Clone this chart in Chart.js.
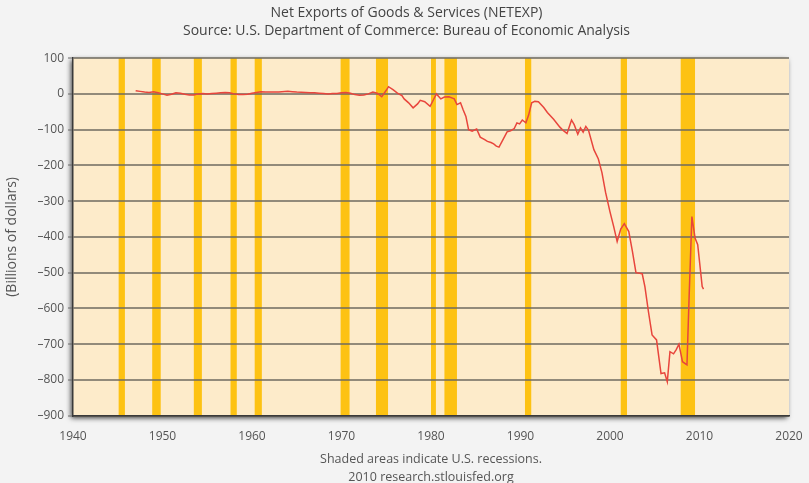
<!DOCTYPE html>
<html>
<head>
<meta charset="utf-8">
<title>Net Exports of Goods & Services</title>
<script src="https://cdn.jsdelivr.net/npm/chart.js@4.4.0/dist/chart.umd.min.js"></script>
<style>
  html, body { margin: 0; padding: 0; background: #f3f3f3; }
  #wrap { width: 809px; height: 483px; position: relative; }
</style>
</head>
<body>
<div id="wrap"><canvas id="netexpChart"></canvas></div>
<script>
// NETEXP, billions of dollars (sampled along the series)
const years = [
  1947.0, 1947.5, 1948.0, 1948.5, 1949.0, 1949.5, 1950.0, 1950.5, 1951.0, 1951.5,
  1952.0, 1952.5, 1953.0, 1953.5, 1954.0, 1954.5, 1955.0, 1955.5, 1956.0, 1956.5,
  1957.0, 1957.5, 1958.0, 1958.5, 1959.0, 1959.5, 1960.0, 1960.5, 1961.0, 1961.5,
  1962.0, 1963.0, 1964.0, 1964.5, 1965.0, 1966.0, 1966.5, 1967.0, 1967.5, 1968.0,
  1968.5, 1969.0, 1969.5, 1970.0, 1970.5, 1971.0, 1971.5, 1972.0, 1972.5, 1973.0,
  1973.5, 1974.0, 1974.5, 1975.0, 1975.25, 1975.75, 1976.25, 1976.75, 1977.0, 1977.5,
  1978.0, 1978.5, 1978.8, 1979.3, 1979.9, 1980.3, 1980.6, 1981.1, 1981.5, 1982.0,
  1982.4, 1982.6, 1982.9, 1983.3, 1983.6, 1983.9, 1984.2, 1984.6, 1985.1, 1985.5,
  1986.0, 1986.3, 1986.7, 1987.0, 1987.3, 1987.6, 1988.0, 1988.5, 1988.9, 1989.3,
  1989.6, 1989.9, 1990.2, 1990.6, 1990.9, 1991.25, 1991.6, 1992.0, 1992.6, 1993.0,
  1993.7, 1994.4, 1994.8, 1995.2, 1995.7, 1996.0, 1996.4, 1996.7, 1997.0, 1997.3,
  1997.6, 1998.2, 1998.7, 1999.1, 1999.5, 2000.0, 2000.4, 2000.8, 2001.2, 2001.6,
  2002.1, 2002.5, 2002.9, 2003.6, 2003.9, 2004.3, 2004.7, 2005.2, 2005.7, 2006.1,
  2006.4, 2006.7, 2007.1, 2007.4, 2007.7, 2008.1, 2008.6, 2008.85, 2009.15, 2009.5,
  2009.8, 2010.3, 2010.45
];
const netExports = [
  9, 7, 5, 4, 6, 3, 0, -4, -1, 3,
  2, -1, -3, -3, 0, 1, 0, 1, 2, 3,
  4, 3, 0, -2, -2, -1, 2, 4, 6, 5,
  5, 5, 7, 6, 5, 4, 3, 3, 2, 1,
  0, 1, 1, 3, 4, 2, -2, -4, -3, 0,
  5, 2, -8, 10, 20, 12, 2, -5, -14, -25,
  -39, -28, -18, -22, -35, -15, 0, -14, -9, -8,
  -12, -14, -30, -25, -45, -63, -100, -104, -98, -121,
  -128, -133, -136, -140, -146, -149, -130, -106, -103, -97,
  -81, -84, -73, -81, -60, -25, -21, -22, -38, -52,
  -71, -93, -103, -111, -73, -86, -113, -95, -107, -91,
  -102, -156, -182, -220, -275, -330, -370, -413, -378, -363,
  -385, -440, -500, -503, -539, -610, -674, -688, -782, -780,
  -805, -721, -727, -715, -700, -749, -758, -560, -343, -403,
  -422, -539, -546
];

// Recession periods (shaded)
const recessionStart = [1945.1, 1948.85, 1953.5, 1957.6, 1960.3, 1969.9, 1973.85, 1980.0, 1981.5, 1990.5, 2001.2, 2007.9];
const recessionEnd   = [1945.8, 1949.8, 1954.4, 1958.3, 1961.1, 1970.9, 1975.2, 1980.55, 1982.9, 1991.2, 2001.9, 2009.5];

const xTicks = [1940, 1950, 1960, 1970, 1980, 1990, 2000, 2010, 2020];
const yTicks = [100, 0, -100, -200, -300, -400, -500, -600, -700, -800, -900];

const points = years.map(function(yr, i) { return { x: yr, y: netExports[i] }; });

// plot background with a soft drop shadow, then recession bars
const plotBackground = {
  id: 'plotBackground',
  beforeDraw: function(chart) {
    const ctx = chart.ctx;
    const area = chart.chartArea;
    const xs = chart.scales.x;
    ctx.save();
    ctx.shadowColor = 'rgba(0,0,0,0.75)';
    ctx.shadowBlur = 5;
    ctx.shadowOffsetX = -2;
    ctx.shadowOffsetY = 2;
    ctx.fillStyle = '#fdebca';
    ctx.fillRect(area.left, area.top, area.width, area.height);
    ctx.restore();

    ctx.save();
    ctx.fillStyle = '#fdc213';
    for (let i = 0; i < recessionStart.length; i++) {
      const x0 = xs.getPixelForValue(recessionStart[i]);
      const x1 = xs.getPixelForValue(recessionEnd[i]);
      ctx.fillRect(x0, area.top, x1 - x0, area.height);
    }
    ctx.restore();
  }
};

const fontFamily = '"Open Sans", "Liberation Sans", sans-serif';

const ctx = document.getElementById('netexpChart').getContext('2d');
const netexpChart = new Chart(ctx, {
  type: 'line',
  data: {
    datasets: [{
      label: 'NETEXP',
      data: points,
      borderColor: '#e8453c',
      borderWidth: 1.5,
      pointRadius: 0,
      tension: 0,
      fill: false
    }]
  },
  options: {
    responsive: true,
    maintainAspectRatio: false,
    animation: false,
    layout: { padding: { left: 4, right: 0, top: 0, bottom: -3 } },
    plugins: {
      legend: { display: false },
      tooltip: { enabled: false },
      title: {
        display: true,
        text: ['Net Exports of Goods & Services (NETEXP)', 'Source: U.S. Department of Commerce: Bureau of Economic Analysis'],
        color: '#444',
        font: { family: fontFamily, size: 14, weight: 'normal', lineHeight: 1.29 },
        padding: { top: 4, bottom: 18 }
      }
    },
    scales: {
      x: {
        type: 'linear',
        min: 1940,
        max: 2020,
        afterBuildTicks: function(axis) { axis.ticks = xTicks.map(function(v) { return { value: v }; }); },
        afterFit: function(axis) {
          axis.height = 70.3;
          axis.paddingLeft = 0;
          axis.paddingRight = 20;
        },
        ticks: {
          color: '#555',
          font: { family: fontFamily, size: 12 },
          padding: 14,
          maxRotation: 0,
          callback: function(v) { return String(v); }
        },
        grid: { display: false, drawTicks: false },
        border: { display: true, color: '#3a3a3a', width: 1.5 },
        title: {
          display: true,
          text: ['Shaded areas indicate U.S. recessions.', '2010 research.stlouisfed.org'],
          color: '#555',
          font: { family: fontFamily, size: 12.5, lineHeight: 1.44 },
          padding: { top: 0, bottom: 0 }
        }
      },
      y: {
        min: -900,
        max: 100,
        afterBuildTicks: function(axis) { axis.ticks = yTicks.map(function(v) { return { value: v }; }); },
        afterFit: function(axis) { axis.width = 69; },
        ticks: {
          color: '#555',
          font: { family: fontFamily, size: 12 },
          padding: 4,
          callback: function(v) { return v < 0 ? '\u2013' + Math.abs(v) : String(v); }
        },
        grid: {
          color: 'rgba(110,105,95,0.75)',
          lineWidth: 2,
          tickLength: 5,
          tickColor: '#666',
          tickWidth: 1
        },
        border: { display: true, color: '#3a3a3a', width: 1.5 },
        title: {
          display: true,
          text: '(Billions of dollars)',
          color: '#555',
          font: { family: fontFamily, size: 14 },
          padding: { top: 0, bottom: 2 }
        }
      }
    }
  },
  plugins: [plotBackground]
});
</script>
</body>
</html>
